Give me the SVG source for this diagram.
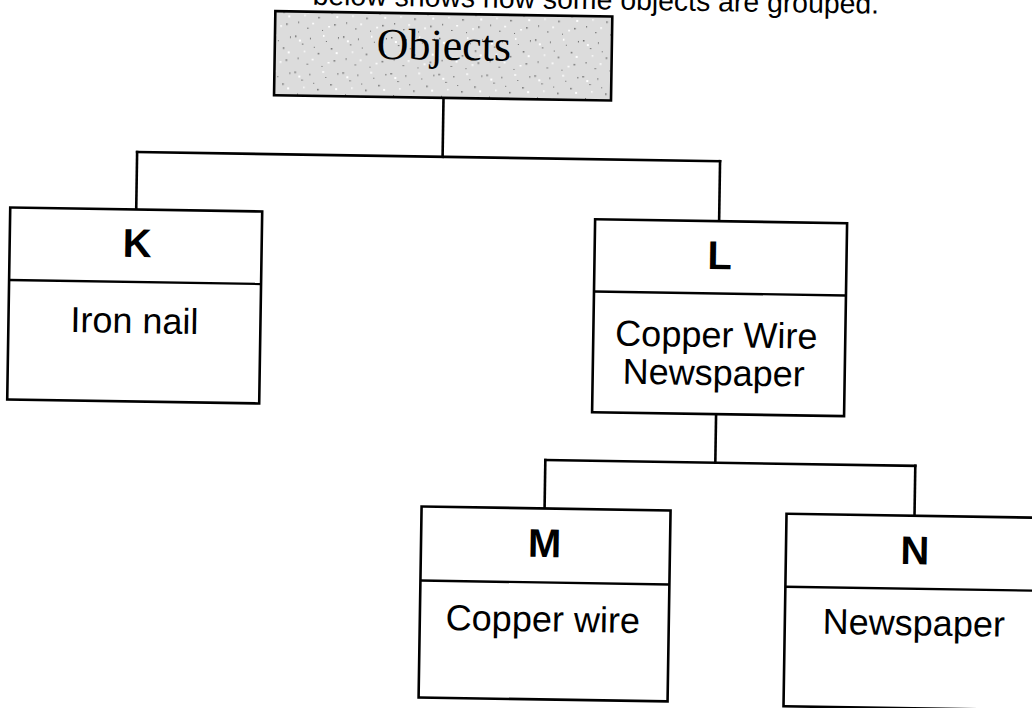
<svg xmlns="http://www.w3.org/2000/svg" width="1032" height="708" viewBox="0 0 1032 708">
  <style>
    .box { fill: #ffffff; stroke: #000000; stroke-width: 2.6; }
    .div { stroke: #000000; stroke-width: 2.4; fill: none; }
    .conn { stroke: #000000; stroke-width: 2.6; fill: none; stroke-linecap: square; }
    .head { font-family: "Liberation Sans", Arial, sans-serif; font-weight: bold; font-size: 40px; text-anchor: middle; fill: #000; }
    .body { font-family: "Liberation Sans", Arial, sans-serif; font-size: 36px; text-anchor: middle; fill: #000; }
    .title { font-family: "Liberation Serif", "Times New Roman", serif; font-size: 44px; text-anchor: middle; fill: #000; }
    .caption { font-family: "Liberation Sans", Arial, sans-serif; font-size: 28.4px; fill: #000; }
  </style>
  <defs>
    <pattern id="speckle" width="48" height="36" patternUnits="userSpaceOnUse">
      <rect width="48" height="36" fill="#dcdcdc"/>
      <g fill="#6a6a6a">
        <rect x="2" y="3" width="1.5" height="1.5"/>
        <rect x="9" y="11" width="1.5" height="1"/>
        <rect x="17" y="5" width="1" height="1.5"/>
        <rect x="25" y="20" width="1.5" height="1.5"/>
        <rect x="33" y="8" width="1" height="1"/>
        <rect x="41" y="27" width="1.5" height="1.5"/>
        <rect x="5" y="25" width="1" height="1.5"/>
        <rect x="14" y="31" width="1.5" height="1"/>
        <rect x="29" y="33" width="1" height="1"/>
        <rect x="38" y="15" width="1.5" height="1.5"/>
        <rect x="21" y="14" width="1" height="1"/>
        <rect x="45" y="4" width="1" height="1.5"/>
      </g>
      <g fill="#ffffff">
        <rect x="6" y="7" width="2" height="2"/>
        <rect x="19" y="26" width="2" height="1.5"/>
        <rect x="30" y="2" width="1.5" height="2"/>
        <rect x="43" y="19" width="2" height="2"/>
        <rect x="11" y="18" width="1.5" height="1.5"/>
        <rect x="35" y="29" width="2" height="1.5"/>
      </g>
    </pattern>
  </defs>
  <rect width="1032" height="708" fill="#ffffff"/>
  <g transform="rotate(0.9 516 354)">
    <text class="caption" x="307" y="8">below shows how some objects are grouped.</text>

    <g id="connectors">
      <line class="conn" x1="439.5" y1="99" x2="439.5" y2="158"/>
      <line class="conn" x1="134" y1="158" x2="717" y2="158"/>
      <line class="conn" x1="134" y1="158" x2="134" y2="215.5"/>
      <line class="conn" x1="717" y1="158" x2="717" y2="218"/>
      <line class="conn" x1="717" y1="411" x2="717" y2="459.6"/>
      <line class="conn" x1="547" y1="459.6" x2="917" y2="459.6"/>
      <line class="conn" x1="547" y1="459.6" x2="547" y2="508"/>
      <line class="conn" x1="917" y1="459.6" x2="917" y2="509.5"/>
    </g>

    <g id="node-objects">
      <rect x="270" y="15" width="337" height="84" fill="url(#speckle)" stroke="#000" stroke-width="2.6"/>
      <text class="title" x="439" y="61">Objects</text>
    </g>

    <g id="node-K">
      <rect class="box" x="8" y="215.5" width="252" height="192"/>
      <line class="div" x1="8" y1="288" x2="260" y2="288"/>
      <text class="head" x="135.5" y="263">K</text>
      <text class="body" x="134" y="339">Iron nail</text>
    </g>

    <g id="node-L">
      <rect class="box" x="593" y="218" width="252" height="193"/>
      <line class="div" x1="593" y1="290.3" x2="845" y2="290.3"/>
      <text class="head" x="718" y="266">L</text>
      <text class="body" x="716" y="344">Copper Wire</text>
      <text class="body" x="714" y="382">Newspaper</text>
    </g>

    <g id="node-M">
      <rect class="box" x="424" y="508" width="249" height="191"/>
      <line class="div" x1="424" y1="582" x2="673" y2="582"/>
      <text class="head" x="547.5" y="556.6">M</text>
      <text class="body" x="547" y="631">Copper wire</text>
    </g>

    <g id="node-N">
      <rect class="box" x="789" y="509.5" width="254" height="192.5"/>
      <line class="div" x1="789" y1="582.5" x2="1043" y2="582.5"/>
      <text class="head" x="918" y="558">N</text>
      <text class="body" x="918" y="629">Newspaper</text>
    </g>
  </g>
</svg>
